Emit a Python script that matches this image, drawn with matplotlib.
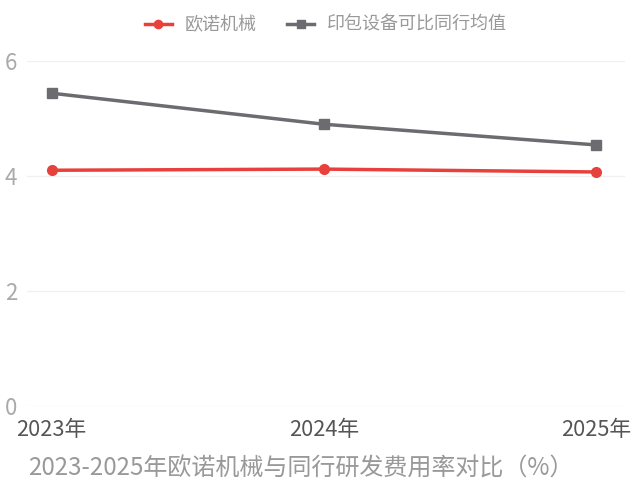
import matplotlib.pyplot as plt

plt.rcParams['font.family'] = ['Noto Sans CJK SC', 'DejaVu Sans']

years = ['2023年', '2024年', '2025年']
onuo = [4.10, 4.12, 4.07]          # 欧诺机械
peers = [5.44, 4.90, 4.54]         # 印包设备可比同行均值
yticks = [0, 2, 4, 6]
title = '2023-2025年欧诺机械与同行研发费用率对比（%）'

fig = plt.figure(figsize=(6.4, 4.92), dpi=100)
ax = fig.add_axes([27/640, 1 - 406/492, (625 - 27)/640, (406 - 61)/492])

x = range(len(years))
ax.plot(x, onuo, color='#e8413c', lw=2.5, marker='o', ms=7, label='欧诺机械', zorder=3)
ax.plot(x, peers, color='#6b6b70', lw=2.5, marker='s', ms=7, label='印包设备可比同行均值', zorder=3)

ax.set_xlim(-0.09, 2.105)
ax.set_ylim(0, 6)
ax.set_yticks(yticks)
ax.set_xticks(list(x))
ax.set_xticklabels(years)
ax.grid(axis='y', color='#f0f0f0', lw=1)
ax.set_axisbelow(True)
for s in ax.spines.values():
    s.set_visible(False)
ax.tick_params(axis='both', length=0)
ax.tick_params(axis='y', labelsize=16, labelcolor='#aaaaaa', pad=7)
ax.tick_params(axis='x', labelsize=15.7, labelcolor='#555555', pad=9)
for lbl in ax.get_yticklabels():
    lbl.set_fontweight('light')

ax.legend(loc='center', bbox_to_anchor=(0.5, 1 + (61 - 25)/345), ncol=2,
          frameon=False, fontsize=13, labelcolor='#999999', handlelength=1.5,
          columnspacing=1.7, handletextpad=0.7, markerscale=0.85)

fig.text(28/640, 1 - 469/492, title, fontsize=17.3, color='#999999', va='center', ha='left')

fig.savefig('out.png', dpi=100)
